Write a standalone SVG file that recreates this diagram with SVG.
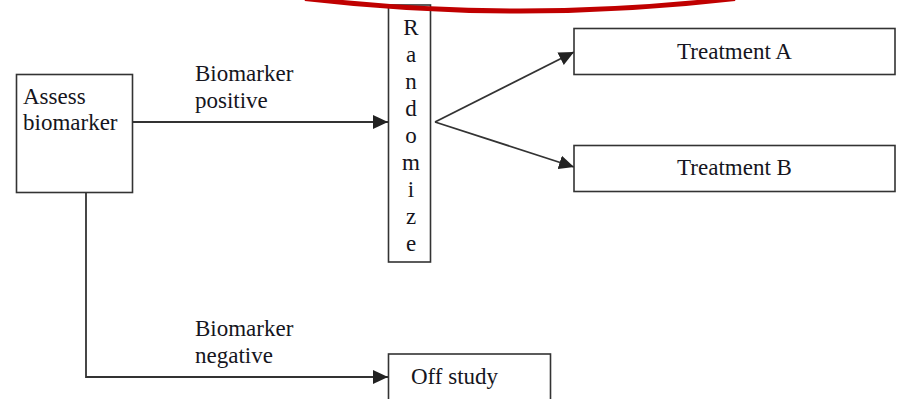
<svg xmlns="http://www.w3.org/2000/svg" width="897" height="399" viewBox="0 0 897 399">
<defs>
<style>
.box{fill:#fff;stroke:#333;stroke-width:1.6}
.t{font-family:"Liberation Serif","Times New Roman",serif;font-size:23px;fill:#151520}
.c{stroke:#333;stroke-width:1.8;fill:none}
</style>
<marker id="ah" markerWidth="16" markerHeight="14" refX="15" refY="7" orient="auto" markerUnits="userSpaceOnUse">
<path d="M0,0 L15,7 L0,14 Z" fill="#222"/>
</marker>
</defs>
<rect width="897" height="399" fill="#fff"/>
<g id="connectors">
<line class="c" x1="132" y1="122" x2="388" y2="122" marker-end="url(#ah)"/>
<line class="c" x1="435" y1="122" x2="574" y2="52" marker-end="url(#ah)"/>
<line class="c" x1="435" y1="122" x2="574" y2="167" marker-end="url(#ah)"/>
<polyline class="c" points="86,193 86,377 388,377" marker-end="url(#ah)"/>
</g>
<g id="assess">
<rect class="box" x="16.5" y="74.5" width="116" height="118"/>
<text class="t" x="23" y="104">Assess</text>
<text class="t" x="23" y="130">biomarker</text>
</g>
<g id="label-positive">
<text class="t" x="195" y="81">Biomarker</text>
<text class="t" x="195" y="108">positive</text>
</g>
<g id="randomize">
<rect class="box" x="388.5" y="5" width="42" height="257"/>
<text class="t" text-anchor="middle" x="411" y="35">R</text>
<text class="t" text-anchor="middle" x="411" y="62">a</text>
<text class="t" text-anchor="middle" x="411" y="89">n</text>
<text class="t" text-anchor="middle" x="411" y="116">d</text>
<text class="t" text-anchor="middle" x="411" y="143">o</text>
<text class="t" text-anchor="middle" x="411" y="170">m</text>
<text class="t" text-anchor="middle" x="411" y="197">i</text>
<text class="t" text-anchor="middle" x="411" y="224">z</text>
<text class="t" text-anchor="middle" x="411" y="251">e</text>
</g>
<g id="treatmentA">
<rect class="box" x="574" y="28.5" width="321" height="46"/>
<text class="t" text-anchor="middle" x="734.5" y="59">Treatment A</text>
</g>
<g id="treatmentB">
<rect class="box" x="574" y="145.5" width="321" height="46"/>
<text class="t" text-anchor="middle" x="734.5" y="175">Treatment B</text>
</g>
<g id="label-negative">
<text class="t" x="195" y="336">Biomarker</text>
<text class="t" x="195" y="363">negative</text>
</g>
<g id="offstudy">
<rect class="box" x="388.5" y="354" width="162" height="60"/>
<text class="t" x="411" y="384">Off study</text>
</g>
<path d="M305,-1.5 Q520,23.5 735,-1.5" fill="none" stroke="#c00000" stroke-width="5"/>
</svg>
